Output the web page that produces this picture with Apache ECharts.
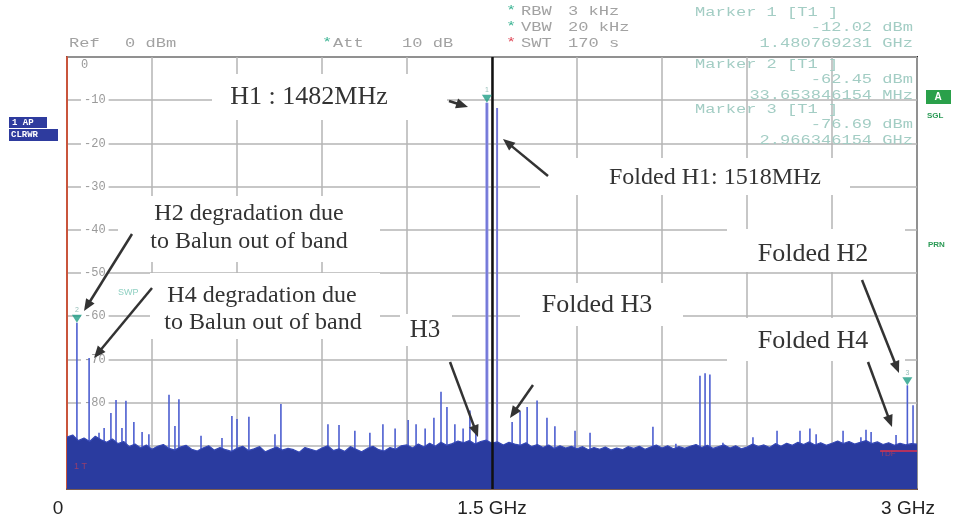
<!DOCTYPE html>
<html><head><meta charset="utf-8">
<script src="https://cdn.jsdelivr.net/npm/echarts@6/dist/echarts.min.js"></script>
<style>html,body{margin:0;padding:0;background:#fff}#c{width:956px;height:521px}</style>
</head><body><div id="c"></div>
<script>
// ---- data ----
const xTickValues = [0, 1500, 3000];
const xTickLabels = ['0', '1.5 GHz', '3 GHz'];
const yTickValues = [0, -10, -20, -30, -40, -50, -60, -70, -80];
const yTickLabels = ['0', '-10', '-20', '-30', '-40', '-50', '-60', '-70', '-80'];
const noiseStepMHz = 20;
const noiseFloor = [
 -88,-87.5,-88.8,-88.2,-89,-87.8,-88.6,-89.2,-88.4,-89.5,
 -89,-90.2,-89.6,-90.5,-89.8,-90.8,-90.1,-89.7,-90.6,-91,
 -90.3,-89.9,-90.8,-91.2,-90.5,-90,-91,-90.4,-90.9,-91.3,
 -90.6,-90.1,-91.1,-90.7,-90.2,-91.4,-90.8,-90.3,-91,-90.6,
 -90.9,-91.5,-90.4,-90.8,-91.2,-90.5,-90,-91.1,-90.7,-91.3,
 -90.2,-90.8,-91.4,-90.6,-90.1,-90.9,-91.2,-90.4,-90.8,-90,
 -89.8,-90.5,-89.6,-90.3,-89.4,-90.1,-89.2,-89.9,-89.5,-88.9,
 -89.3,-88.8,-89.6,-89,-88.7,-89.4,-89.1,-89.8,-89.2,-89.6,
 -89.9,-89.3,-90.2,-89.7,-90.4,-89.8,-90.6,-90,-90.5,-90.1,
 -90.7,-90.2,-90.9,-90.4,-90.8,-90.3,-91,-90.5,-90.9,-90.2,
 -90.6,-90.1,-90.8,-90.3,-89.8,-90.5,-90,-90.7,-90.2,-90.6,
 -90.1,-89.7,-90.4,-89.9,-90.6,-90.2,-89.8,-90.5,-90,-90.7,
 -90.3,-89.6,-90.2,-89.8,-90.4,-89.5,-90.1,-89.4,-89.9,-89.2,
 -89.7,-89.1,-89.8,-89.3,-89.9,-89.4,-88.9,-89.5,-89,-89.6,
 -89.2,-88.8,-89.5,-89.1,-89.7,-89.3,-89.9,-89.4,-89.8,-89.5,
 -89.6
];
const spurFreq = [35,78,113,131,155,173,194,208,236,265,289,360,381,395,473,547,582,600,642,734,755,921,960,
  1016,1069,1115,1158,1204,1232,1264,1295,1320,1341,1369,1398,1422,1443,
  1571,1599,1624,1659,1694,1722,1793,1846,
  2068,2149,2234,2252,2269,2315,2421,2506,2587,2622,2644,2739,2802,2820,2838,2926,2966,2986];
const spurLevel = [-61.5,-69.7,-87,-85.9,-82.4,-79.4,-85.9,-79.6,-84.5,-86.8,-87.3,-78.2,-85.4,-79.2,-87.7,-88.2,-83.1,-83.8,-83.3,-87.3,-80.3,-85,-85.2,
  -86.5,-87,-85,-86,-84,-85,-86,-83.5,-77.5,-81,-85,-86,-81.8,-86.4,
  -84.5,-82,-81,-79.5,-83.5,-85.5,-86.5,-87,
  -85.6,-89.5,-73.8,-73.2,-73.5,-89.3,-88,-86.5,-86.5,-86,-87.3,-86.5,-88,-86.3,-86.8,-87.5,-76,-80.6];
const mainFreq = [1482, 1518];
const mainLevel = [-10.6, -11.8];
const markerFreq = [1482, 35, 2966];
const markerLevel = [-10.6, -61.5, -76];
const markerNames = ['1', '2', '3'];

// ---- chart ----
const chart = echarts.init(document.getElementById('c'), null, {renderer: 'canvas'});
const SERIF = 'Liberation Serif', MONO = 'Liberation Mono', SANS = 'Liberation Sans';

function spurRender(color, width) {
  return function (params, api) {
    const p1 = api.coord([api.value(0), -100]);
    const p2 = api.coord([api.value(0), api.value(1)]);
    return {type: 'line', shape: {x1: p1[0], y1: p1[1], x2: p2[0], y2: p2[1]},
      style: {stroke: color, lineWidth: width}};
  };
}

const g = [];
function txt(x, y, text, fill, size, font, extra, sx) {
  g.push({type: 'text', x: x, y: y, z: 50, scaleX: sx || 1,
    style: Object.assign({text: text, fill: fill, fontSize: size, fontFamily: font, verticalAlign: 'middle'}, extra || {})});
}
function mono(x, y, text, fill, extra) { txt(x, y, text, fill, 12, MONO, extra, 1.42); }
function box(x, y, w, h) {
  g.push({type: 'rect', z: 40, shape: {x: x, y: y, width: w, height: h}, style: {fill: '#fff'}});
}
function arrow(x1, y1, x2, y2) {
  const dx = x2 - x1, dy = y2 - y1, L = Math.sqrt(dx * dx + dy * dy);
  const ux = dx / L, uy = dy / L, hl = 12, hw = 5;
  const bx = x2 - ux * hl, by = y2 - uy * hl;
  g.push({type: 'line', z: 60, shape: {x1: x1, y1: y1, x2: bx + ux * 2, y2: by + uy * 2},
    style: {stroke: '#333', lineWidth: 2.5}});
  g.push({type: 'polygon', z: 60, shape: {points: [[x2, y2], [bx - uy * hw, by + ux * hw], [bx + uy * hw, by - ux * hw]]},
    style: {fill: '#333'}});
}
// header
const hdr = '#a2a2a2', mk = '#a3cdc4';
mono(69, 44, 'Ref', hdr);
mono(125, 44, '0 dBm', hdr);
mono(322, 43, '*', '#3fb595');
mono(333, 44, 'Att', hdr);
mono(402, 44, '10 dB', hdr);
mono(506, 11, '*', '#3fb595'); mono(521, 12, 'RBW', hdr); mono(568, 12, '3 kHz', hdr);
mono(506, 27, '*', '#3fb595'); mono(521, 28, 'VBW', hdr); mono(568, 28, '20 kHz', hdr);
mono(506, 43, '*', '#e04a5a'); mono(521, 44, 'SWT', hdr); mono(568, 44, '170 s', hdr);
mono(695, 13, 'Marker 1 [T1 ]', mk);
mono(913, 28, '-12.02 dBm', mk, {align: 'right'});
mono(913, 44, '1.480769231 GHz', mk, {align: 'right'});
mono(695, 65, 'Marker 2 [T1 ]', mk);
mono(913, 80, '-62.45 dBm', mk, {align: 'right'});
mono(913, 96, '33.653846154 MHz', mk, {align: 'right'});
mono(695, 110, 'Marker 3 [T1 ]', mk);
mono(913, 125, '-76.69 dBm', mk, {align: 'right'});
mono(913, 141, '2.966346154 GHz', mk, {align: 'right'});
// side badges
g.push({type: 'rect', z: 40, shape: {x: 926, y: 90, width: 25, height: 14}, style: {fill: '#2aa04a'}});
txt(938, 97, 'A', '#fff', 10, SANS, {align: 'center', fontWeight: 'bold'});
txt(927, 116, 'SGL', '#2a9a55', 8, SANS, {fontWeight: 'bold'});
txt(928, 245, 'PRN', '#2a9a55', 8, SANS, {fontWeight: 'bold'});
g.push({type: 'rect', z: 40, shape: {x: 9, y: 117, width: 38, height: 11}, style: {fill: '#2e3b9e'}});
g.push({type: 'rect', z: 40, shape: {x: 9, y: 129, width: 49, height: 12}, style: {fill: '#2e3b9e'}});
txt(12, 123, '1 AP', '#fff', 9, MONO, {fontWeight: 'bold'});
txt(11, 135, 'CLRWR', '#fff', 9, MONO, {fontWeight: 'bold'});
txt(118, 293, 'SWP', '#8fd0c2', 9, SANS);
txt(74, 467, '1 T', '#c0405a', 9, SANS, {opacity: 0.7});
txt(880, 454, 'TDF', '#c0405a', 8, SANS, {opacity: 0.7});
// annotation boxes
box(212, 74, 235, 46);
box(540, 158, 310, 37);
box(118, 196, 262, 66);
box(150, 273, 230, 66);
box(520, 283, 163, 43);
box(400, 314, 52, 32);
box(727, 229, 178, 43);
box(727, 318, 178, 43);
const ac = '#333';
txt(309, 97, 'H1 : 1482MHz', ac, 26, SERIF, {align: 'center'});
txt(715, 178, 'Folded H1: 1518MHz', ac, 24, SERIF, {align: 'center'});
txt(249, 214, 'H2 degradation due', ac, 24, SERIF, {align: 'center'});
txt(249, 242, 'to Balun out of band', ac, 24, SERIF, {align: 'center'});
txt(262, 296, 'H4 degradation due', ac, 24, SERIF, {align: 'center'});
txt(263, 323, 'to Balun out of band', ac, 24, SERIF, {align: 'center'});
txt(597, 305, 'Folded H3', ac, 26, SERIF, {align: 'center'});
txt(425, 330, 'H3', ac, 25, SERIF, {align: 'center'});
txt(813, 254, 'Folded H2', ac, 26, SERIF, {align: 'center'});
txt(813, 341, 'Folded H4', ac, 26, SERIF, {align: 'center'});
// arrows
arrow(449, 101, 468, 107);
arrow(548, 176, 503, 139);
arrow(132, 234, 84, 311);
arrow(152, 288, 94, 358);
arrow(450, 362, 478, 437);
arrow(533, 385, 510, 418);
arrow(862, 280, 899, 373);
arrow(868, 362, 892, 427);

const option = {
  animation: false,
  backgroundColor: '#fff',
  grid: {left: 67, top: 57, width: 850, height: 432, show: true, borderColor: '#2a2a2a', borderWidth: 2, backgroundColor: 'transparent'},
  xAxis: {
    type: 'value', min: 0, max: 3000, interval: 300,
    axisLine: {show: true, onZero: false, lineStyle: {color: '#7a5a50', width: 2}},
    axisTick: {show: false},
    splitLine: {show: true, lineStyle: {color: '#b4b4b4', width: 1.5}},
    axisLabel: {
      show: true, showMinLabel: true, showMaxLabel: true, margin: 10,
      formatter: function (v) {
        const i = xTickValues.indexOf(v);
        if (i < 0) return '';
        return (i === 1) ? '{m|' + xTickLabels[i] + '}' : '{e|' + xTickLabels[i] + '}';
      },
      rich: {
        m: {fontSize: 19, fontFamily: SANS, color: '#222'},
        e: {fontSize: 19, fontFamily: SANS, color: '#222', padding: [0, 18, 0, 0]}
      }
    }
  },
  yAxis: {
    type: 'value', min: -100, max: 0, interval: 10,
    axisLine: {show: true, onZero: false, lineStyle: {color: '#c9553c', width: 2}},
    axisTick: {show: false},
    splitLine: {show: true, lineStyle: {color: '#b4b4b4', width: 1.5}},
    axisLabel: {
      inside: true, margin: 14, showMinLabel: false,
      formatter: function (v) {
        const i = yTickValues.indexOf(v);
        if (i < 0) return '';
        return v === 0 ? '{z|' + yTickLabels[i] + '}' : '{n|' + yTickLabels[i] + '}';
      },
      rich: {
        z: {fontSize: 12, fontFamily: MONO, color: '#9a9a9a', padding: [16, 0, 0, 0]},
        n: {fontSize: 12, fontFamily: MONO, color: '#9a9a9a', backgroundColor: '#fff', padding: [0, 3, 0, 3]}
      }
    }
  },
  series: [
    {
      type: 'custom', name: 'spurs', z: 2, clip: true,
      renderItem: spurRender('#4c5ed0', 1.6),
      data: spurFreq.map(function (f, i) { return [f, spurLevel[i]]; })
    },
    {
      type: 'custom', name: 'fund', z: 3, clip: true,
      renderItem: function (params, api) {
        const p1 = api.coord([api.value(0), -100]);
        const p2 = api.coord([api.value(0), api.value(1)]);
        const w = params.dataIndex === 0 ? 3 : 2;
        return {type: 'group', children: [
          {type: 'line', shape: {x1: p1[0], y1: p1[1], x2: p2[0], y2: p2[1]}, style: {stroke: '#8c8fe6', lineWidth: w}},
          {type: 'line', shape: {x1: p1[0], y1: p1[1], x2: p2[0], y2: p2[1]}, style: {stroke: '#5a5fc8', lineWidth: 0.8}}
        ]};
      },
      data: mainFreq.map(function (f, i) { return [f, mainLevel[i]]; })
    },
    {
      type: 'line', name: 'noise', z: 4, symbol: 'none',
      data: noiseFloor.map(function (v, i) { return [i * noiseStepMHz, v]; }),
      lineStyle: {color: '#3447b4', width: 1.2},
      areaStyle: {color: '#2a3b9f', opacity: 1, origin: 'start'},
      markLine: {
        silent: true, symbol: 'none', label: {show: false},
        data: [
          [{coord: [1500, 0], lineStyle: {color: '#111', width: 2.5, type: 'solid'}}, {coord: [1500, -100]}],
          [{coord: [2870, -91.2], lineStyle: {color: '#e0304a', width: 1.5, type: 'solid'}}, {coord: [3000, -91.2]}]
        ]
      }
    },
    {
      type: 'scatter', name: 'markers', z: 6,
      symbol: 'triangle', symbolRotate: 180, symbolSize: [10, 8], symbolOffset: [0, -4],
      itemStyle: {color: '#1f9d86'},
      label: {show: true, position: 'top', distance: 1, fontSize: 7, color: '#7aaea6',
        formatter: function (p) { return markerNames[p.dataIndex]; }},
      data: markerFreq.map(function (f, i) { return [f, markerLevel[i]]; })
    }
  ],
  graphic: g
};
chart.setOption(option);
</script>
</body></html>
